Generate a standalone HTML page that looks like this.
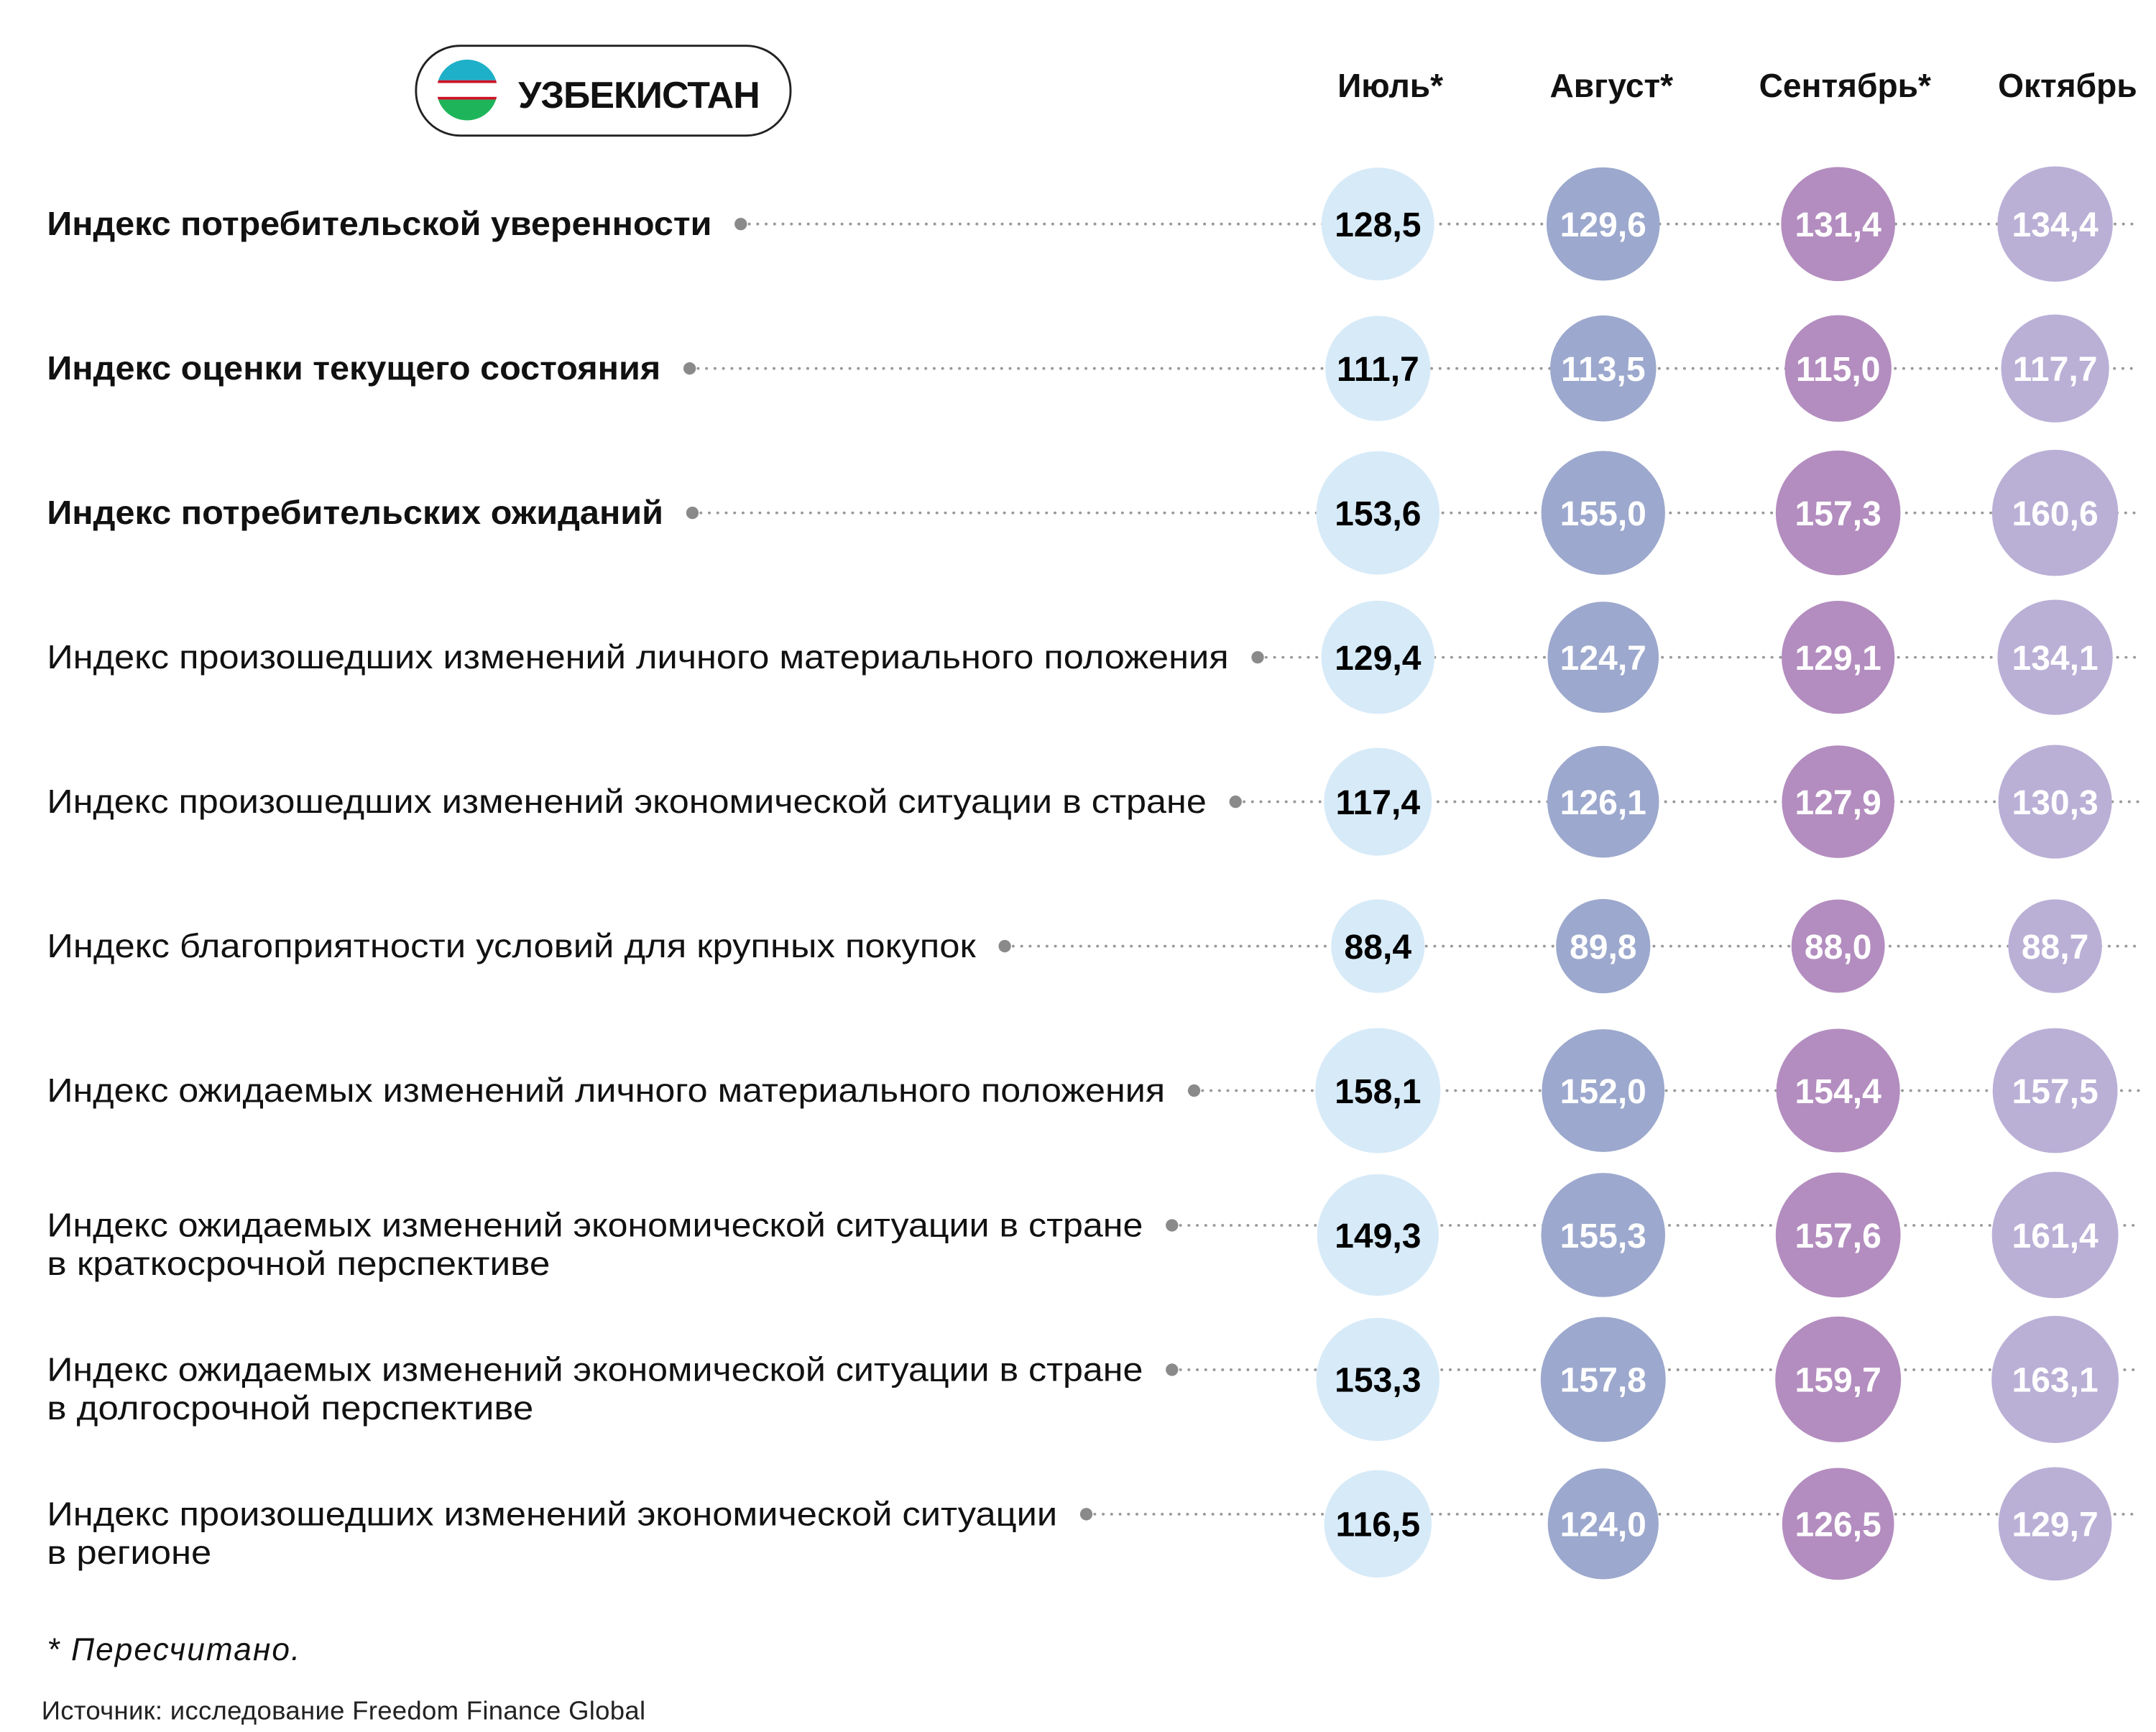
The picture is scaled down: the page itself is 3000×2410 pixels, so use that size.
<!DOCTYPE html>
<html><head><meta charset="utf-8"><style>
html,body{margin:0;padding:0;background:#fff}
svg{display:block}
text{font-family:"Liberation Sans",sans-serif}
</style></head><body>
<svg id="chart" xmlns="http://www.w3.org/2000/svg" width="3000" height="2410" viewBox="0 0 1560 1253">
<rect width="1560" height="1253" fill="#fff"/>
<g>
<rect x="301" y="33" width="271" height="65" rx="32" fill="#fff" stroke="#222" stroke-width="1.5"/>
<clipPath id="fc"><circle cx="338" cy="65" r="22"/></clipPath>
<g clip-path="url(#fc)">
<rect x="316" y="43" width="44" height="15" fill="#1eb0c8"/>
<rect x="316" y="58" width="44" height="2" fill="#ce1126"/>
<rect x="316" y="60" width="44" height="10" fill="#fff"/>
<rect x="316" y="70" width="44" height="2" fill="#ce1126"/>
<rect x="316" y="72" width="44" height="16" fill="#1eb55a"/>
</g>
<text x="375" y="78" font-size="27" font-weight="bold" fill="#111" textLength="175">УЗБЕКИСТАН</text>
</g>
<g id="heads"></g>
<g id="rows"></g>
<text x="34" y="1201" font-size="23" font-style="italic" fill="#111" textLength="183">* Пересчитано.</text>
<text x="30" y="1244" font-size="19" fill="#222" textLength="437">Источник: исследование Freedom Finance Global</text>
</svg>
<script>
const months = ["Июль*","Август*","Сентябрь*","Октябрь"];
const labels = [
 ["Индекс потребительской уверенности"],
 ["Индекс оценки текущего состояния"],
 ["Индекс потребительских ожиданий"],
 ["Индекс произошедших изменений личного материального положения"],
 ["Индекс произошедших изменений экономической ситуации в стране"],
 ["Индекс благоприятности условий для крупных покупок"],
 ["Индекс ожидаемых изменений личного материального положения"],
 ["Индекс ожидаемых изменений экономической ситуации в стране","в краткосрочной перспективе"],
 ["Индекс ожидаемых изменений экономической ситуации в стране","в долгосрочной перспективе"],
 ["Индекс произошедших изменений экономической ситуации","в регионе"]
];
const july = [128.5,111.7,153.6,129.4,117.4,88.4,158.1,149.3,153.3,116.5];
const august = [129.6,113.5,155.0,124.7,126.1,89.8,152.0,155.3,157.8,124.0];
const september = [131.4,115.0,157.3,129.1,127.9,88.0,154.4,157.6,159.7,126.5];
const october = [134.4,117.7,160.6,134.1,130.3,88.7,157.5,161.4,163.1,129.7];
const series = [july,august,september,october];
const NS="http://www.w3.org/2000/svg";
const colX=[997,1160,1330,1487];
const headX=[1006,1166,1335,1496];
const colors=["#d7eaf8","#9ca8cd","#b38dbf","#bab0d6"];
const textColors=["#000","#fff","#fff","#fff"];
const bold=[true,true,true,false,false,false,false,false,false,false];
const widths=[[481],[444],[446],[855],[839],[672],[809],[793,364],[793,352],[731,119]];
function rowY(i){return 162+i*104.5;}
function rScale(v){return Math.sqrt(v)*3.6;}
function mk(tag,attrs,parent){const e=document.createElementNS(NS,tag);for(const k in attrs)e.setAttribute(k,attrs[k]);parent.appendChild(e);return e;}
const heads=document.getElementById('heads');
months.forEach((m,j)=>{
 const t=mk('text',{x:headX[j],y:70,'font-size':24,'font-weight':'bold','text-anchor':'middle',fill:'#111'},heads);
 
 
 t.textContent=m;
});
const rows=document.getElementById('rows');
labels.forEach((lines,i)=>{
 const cy=rowY(i);
 const g=mk('g',{},rows);
 
 
 const two=lines.length>1;
 const ly=two?cy-7:cy;
 lines.forEach((ln,k)=>{
  const t=mk('text',{x:34,y:(two?cy-7+k*28:cy)+8,'font-size':24,fill:'#111','font-weight':bold[i]?'bold':'normal',textLength:widths[i][k],lengthAdjust:'spacingAndGlyphs'},g);
  
  
  t.textContent=ln;
 });
 const dx=34+widths[i][0]+21;
 const dl=mk('line',{x1:dx,y1:ly,x2:1548,y2:ly,stroke:'#999','stroke-width':2,'stroke-dasharray':'0.1 6','stroke-linecap':'round'},g);
 
 
 const dot=mk('circle',{cx:dx,cy:ly,r:4.5,fill:'#8a8a8a'},g);
 
 
 series.forEach((s,j)=>{
  const v=s[i];
  const c=mk('circle',{cx:colX[j],cy:cy,r:rScale(v),fill:colors[j]},g);
  
  
  const t=mk('text',{x:colX[j],y:cy+9,'font-size':25,'font-weight':'bold','text-anchor':'middle',fill:textColors[j]},g);
  
  
  t.textContent=v.toFixed(1).replace('.',',');
 });
});
</script>
</body></html>
